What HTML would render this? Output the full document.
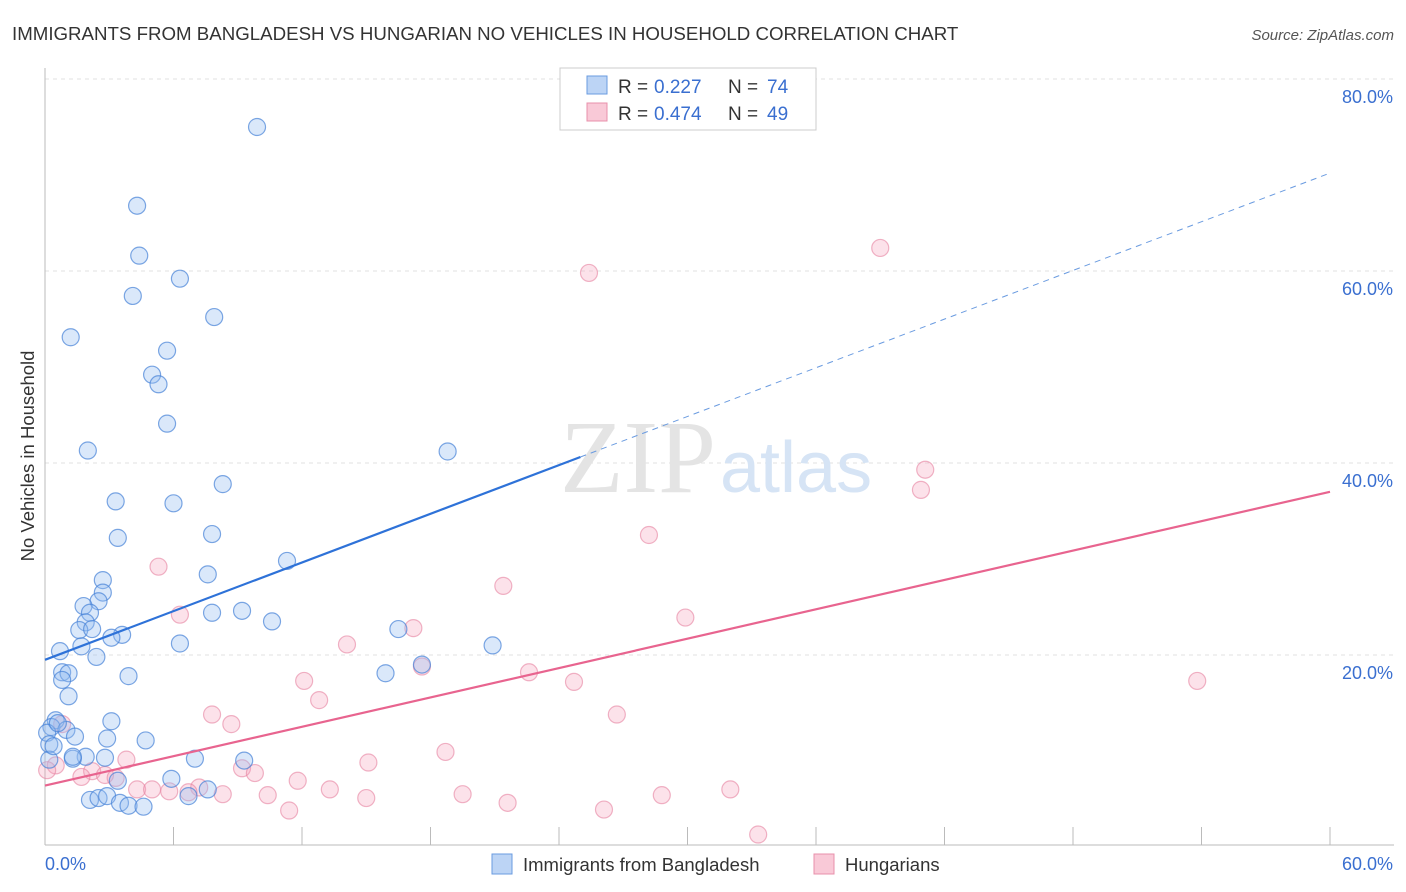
<!DOCTYPE html>
<html><head><meta charset="utf-8"><style>
body{margin:0;background:#fff;font-family:"Liberation Sans",sans-serif;}
</style></head><body>
<svg width="1406" height="892" style="display:block">
<text x="12" y="40" font-size="18.7" fill="#333">IMMIGRANTS FROM BANGLADESH VS HUNGARIAN NO VEHICLES IN HOUSEHOLD CORRELATION CHART</text>
<text x="1394" y="40" font-size="15" fill="#555" font-style="italic" text-anchor="end">Source: ZipAtlas.com</text>
<text x="34" y="456" font-size="18.5" fill="#333" text-anchor="middle" transform="rotate(-90 34 456)">No Vehicles in Household</text>
<g id="grid"></g>
<g id="axes"></g>
<text x="716" y="492" font-size="104" fill="#e4e4e4" text-anchor="end" font-family="Liberation Serif,serif">ZIP</text>
<text x="720" y="492" font-size="72" fill="#d6e4f5">atlas</text>
<g id="pts"></g>
<g id="trends"></g>
<g>
<rect x="560" y="68" width="256" height="62" fill="#fff" stroke="#ccc"/>
<rect x="587" y="76" width="20" height="18" fill="#bcd4f5" stroke="#6a9be0"/>
<rect x="587" y="103" width="20" height="18" fill="#f9c9d7" stroke="#e890ab"/>
<text x="618" y="93" font-size="19" fill="#333">R =</text><text x="654" y="93" font-size="19" fill="#3a6fd0">0.227</text>
<text x="728" y="93" font-size="19" fill="#333">N =</text><text x="767" y="93" font-size="19" fill="#3a6fd0">74</text>
<text x="618" y="120" font-size="19" fill="#333">R =</text><text x="654" y="120" font-size="19" fill="#3a6fd0">0.474</text>
<text x="728" y="120" font-size="19" fill="#333">N =</text><text x="767" y="120" font-size="19" fill="#3a6fd0">49</text>
</g>
<g>
<rect x="492" y="854" width="20" height="20" fill="#bcd4f5" stroke="#6a9be0"/>
<text x="523" y="871" font-size="18.5" fill="#333">Immigrants from Bangladesh</text>
<rect x="814" y="854" width="20" height="20" fill="#f9c9d7" stroke="#e890ab"/>
<text x="845" y="871" font-size="18.5" fill="#333">Hungarians</text>
</g>
</svg>
<script>
const yTicks=[20,40,60,80];
const yTickLabels=["20.0%","40.0%","60.0%","80.0%"];
const xTickLabels=["0.0%","60.0%"];
const blueX=[9.9,4.3,4.4,6.3,4.1,7.9,1.2,5.7,5.0,5.3,5.7,2.0,18.8,8.3,3.3,6.0,3.4,7.8,7.6,2.7,2.7,2.5,1.8,2.1,1.9,1.6,2.2,3.6,3.1,1.7,6.3,2.4,9.2,7.8,10.6,11.3,16.5,20.9,17.6,15.9,0.7,0.8,1.1,0.8,3.9,1.1,0.5,3.1,0.3,1.0,1.4,2.9,0.1,0.2,4.7,1.9,1.3,2.8,7.0,9.3,3.4,5.9,2.1,2.5,2.9,3.5,3.9,4.6,6.7,7.6,0.2,0.4,1.3,0.6];
const blueY=[75,66.8,61.6,59.2,57.4,55.2,53.1,51.7,49.2,48.2,44.1,41.3,41.2,37.8,36,35.8,32.2,32.6,28.4,27.8,26.5,25.6,25.1,24.4,23.4,22.6,22.7,22.1,21.8,20.9,21.2,19.8,24.6,24.4,23.5,29.8,22.7,21,19,18.1,20.4,18.2,18.1,17.4,17.8,15.7,13.2,13.1,12.5,12.2,11.5,11.3,11.9,10.7,11.1,9.4,9.2,9.3,9.2,9,6.9,7.1,4.9,5.1,5.3,4.6,4.3,4.2,5.3,6,9.1,10.5,9.4,12.9];
const pinkX=[39,25.4,41.1,40.9,28.2,5.3,21.4,6.3,29.9,17.2,14.1,17.6,22.6,12.1,24.7,53.8,12.8,26.7,7.8,8.7,0.8,18.7,15.1,3.8,2.2,9.2,9.8,2.8,11.8,1.7,3.3,7.2,4.3,5,5.8,6.7,8.3,10.4,13.3,15,19.5,21.6,28.8,32,26.1,11.4,33.3,0.5,0.1];
const pinkY=[62.4,59.8,39.3,37.2,32.5,29.2,27.2,24.2,23.9,22.8,21.1,18.8,18.2,17.3,17.2,17.3,15.3,13.8,13.8,12.8,12.8,9.9,8.8,9.1,7.9,8.2,7.7,7.5,6.9,7.3,7.2,6.2,6,6,5.8,5.7,5.5,5.4,6,5.1,5.5,4.6,5.4,6,3.9,3.8,1.3,8.5,8];
const blueTrend=[19.5,70.2];
const pinkTrend=[6.4,37];
const X0=45,X1=1330,Y0=847,PY=9.6;
const sx=v=>X0+(X1-X0)*v/60, sy=v=>Y0-v*PY;
const NS="http://www.w3.org/2000/svg";
function mk(tag,attrs,parent){const e=document.createElementNS(NS,tag);for(const k in attrs)e.setAttribute(k,attrs[k]);parent.appendChild(e);return e;}
const grid=document.getElementById('grid'),axes=document.getElementById('axes');
yTicks.forEach((t,i)=>{
 const l=mk('line',{x1:X0,x2:1394,y1:sy(t),y2:sy(t),stroke:'#e2e2e2','stroke-dasharray':'4,4'},grid);
 
 
 const tx=mk('text',{x:1393,y:sy(t)+24,'font-size':18,fill:'#3a6fd0','text-anchor':'end'},axes);
 tx.textContent=yTickLabels[i];
 
 
});
mk('line',{x1:X0,x2:X0,y1:68,y2:845,stroke:'#bbb'},axes);
mk('line',{x1:X0,x2:1394,y1:845,y2:845,stroke:'#bbb'},axes);
for(let i=1;i<=10;i++){const x=sx(i*6);const t=mk('line',{x1:x,x2:x,y1:827,y2:845,stroke:'#bbb'},axes);}
const xl0=mk('text',{x:45,y:870,'font-size':18,fill:'#3a6fd0'},axes);xl0.textContent=xTickLabels[0];


const xl1=mk('text',{x:1393,y:870,'font-size':18,fill:'#3a6fd0','text-anchor':'end'},axes);xl1.textContent=xTickLabels[1];


const pts=document.getElementById('pts');
pinkX.forEach((x,i)=>{const c=mk('circle',{cx:sx(x),cy:sy(pinkY[i]),r:8.5,fill:'rgba(245,160,185,0.3)',stroke:'rgba(230,130,160,0.6)','stroke-width':1.2},pts);
 
 });
blueX.forEach((x,i)=>{const c=mk('circle',{cx:sx(x),cy:sy(blueY[i]),r:8.5,fill:'rgba(150,190,240,0.35)',stroke:'rgba(70,130,215,0.7)','stroke-width':1.2},pts);
 
 });
const tr=document.getElementById('trends');
const bAt=v=>blueTrend[0]+(blueTrend[1]-blueTrend[0])*v/60;
let l1=mk('line',{x1:sx(0),y1:sy(bAt(0)),x2:sx(25),y2:sy(bAt(25)),stroke:'#2e72d8','stroke-width':2.2},tr);


let l2=mk('line',{x1:sx(25),y1:sy(bAt(25)),x2:sx(60),y2:sy(bAt(60)),stroke:'#6a9be0','stroke-width':1,'stroke-dasharray':'6,5'},tr);


let l3=mk('line',{x1:sx(0),y1:sy(pinkTrend[0]),x2:sx(60),y2:sy(pinkTrend[1]),stroke:'#e8648f','stroke-width':2.2},tr);


</script>
</body></html>
